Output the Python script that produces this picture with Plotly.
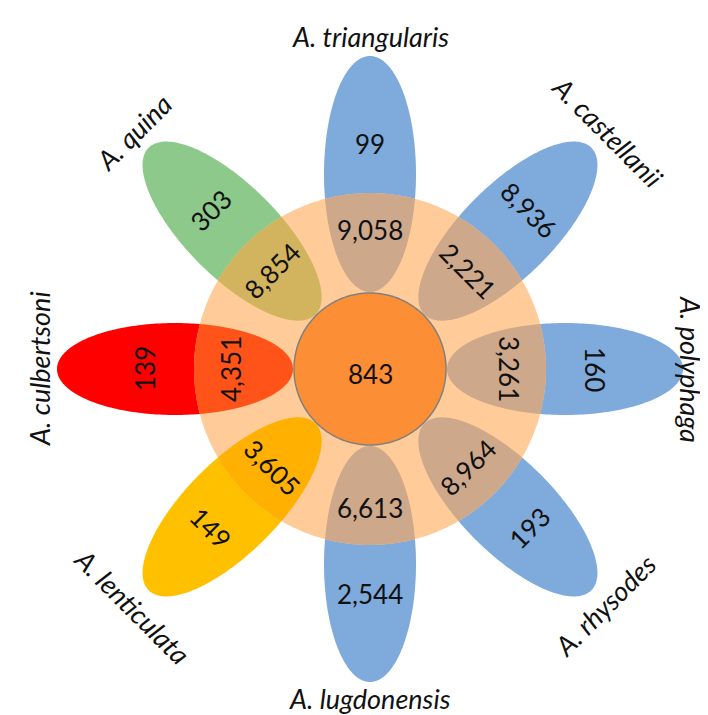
import numpy as np
import plotly.graph_objects as go

# ---- data ----
species = ["A. triangularis", "A. castellanii", "A. polyphaga", "A. rhysodes",
           "A. lugdonensis", "A. lenticulata", "A. culbertsoni", "A. quina"]
unique_counts = [99, 8936, 160, 193, 2544, 149, 139, 303]
shared_counts = [9058, 2221, 3261, 8964, 6613, 3605, 4351, 8854]
core_count = 843

# ---- styling ----
petal_angles = [90, 45, 0, -45, -90, -135, 180, 135]        # degrees, math convention
text_angles = [0, 45, 90, -45, 0, 45, -90, -45]              # plotly textangle (clockwise)
label_radii = [333, 336, 321, 333, 329, 336, 331, 335]
petal_colors = ["#7EAADC", "#7EAADC", "#7EAADC", "#7EAADC",
                "#7EAADC", "#FFC000", "#FF0000", "#8CC98A"]
overlap_colors = ["#CDA88A", "#CDA88A", "#CDA88A", "#CDA88A",
                  "#CDA88A", "#FFB000", "#FF5319", "#D2B45F"]
ring_color = "#FFCC99"
core_color = "#FC8E35"

W, H = 708, 715
CX, CY = 362, 361
R_RING, R_CORE = 176, 76
D_PETAL, A_PETAL, B_PETAL = 195, 118, 46
R_UNIQUE, R_SHARED = 225, 139
FONT = "Lato"


def path_from(pts):
    return "M " + " L ".join(f"{x:.2f},{y:.2f}" for x, y in pts) + " Z"


def ellipse_pts(ang, n=240):
    t = np.linspace(0, 2 * np.pi, n, endpoint=False)
    th = np.deg2rad(ang)
    ux, uy = np.cos(th), -np.sin(th)          # screen y down
    vx, vy = -uy, ux
    ex = CX + D_PETAL * ux
    ey = CY + D_PETAL * uy
    xs = ex + A_PETAL * np.cos(t) * ux + B_PETAL * np.sin(t) * vx
    ys = ey + A_PETAL * np.cos(t) * uy + B_PETAL * np.sin(t) * vy
    return xs, ys, (ex, ey, ux, uy, vx, vy)


def circle_pts(r, n=360):
    t = np.linspace(0, 2 * np.pi, n, endpoint=False)
    return CX + r * np.cos(t), CY + r * np.sin(t)


shapes = []
# petals
for ang, col in zip(petal_angles, petal_colors):
    xs, ys, _ = ellipse_pts(ang)
    shapes.append(dict(type="path", path=path_from(zip(xs, ys)),
                       fillcolor=col, line=dict(width=0), layer="above"))
# ring
rx, ry = circle_pts(R_RING)
shapes.append(dict(type="path", path=path_from(zip(rx, ry)),
                   fillcolor=ring_color, line=dict(width=0), layer="above"))
# overlaps (convex intersection of petal and ring)
cx_r, cy_r = circle_pts(R_RING, 1440)
for ang, col in zip(petal_angles, overlap_colors):
    xs, ys, (ex, ey, ux, uy, vx, vy) = ellipse_pts(ang, 1440)
    inside_c = (xs - CX) ** 2 + (ys - CY) ** 2 <= R_RING ** 2
    px = list(xs[inside_c]); py = list(ys[inside_c])
    dx = cx_r - ex; dy = cy_r - ey
    u = dx * ux + dy * uy; v = dx * vx + dy * vy
    inside_e = (u / A_PETAL) ** 2 + (v / B_PETAL) ** 2 <= 1
    px += list(cx_r[inside_e]); py += list(cy_r[inside_e])
    px = np.array(px); py = np.array(py)
    mx, my = px.mean(), py.mean()
    order = np.argsort(np.arctan2(py - my, px - mx))
    shapes.append(dict(type="path", path=path_from(zip(px[order], py[order])),
                       fillcolor=col, line=dict(width=0), layer="above"))
# core
kx, ky = circle_pts(R_CORE)
shapes.append(dict(type="path", path=path_from(zip(kx, ky)),
                   fillcolor=core_color, line=dict(color="#808080", width=1.5),
                   layer="above"))

annotations = []


def add_text(r, ang, txt, tangle, size, italic=False):
    th = np.deg2rad(ang)
    x = CX + r * np.cos(th)
    y = CY - r * np.sin(th)
    annotations.append(dict(x=x, y=y, xref="x", yref="y", text=txt, showarrow=False,
                            textangle=tangle, xanchor="center", yanchor="middle",
                            font=dict(family=FONT, size=size, color="#111111",
                                      style="italic" if italic else "normal")))


for name, uc, sc, ang, ta, lr in zip(species, unique_counts, shared_counts,
                                     petal_angles, text_angles, label_radii):
    add_text(R_UNIQUE, ang, f"{uc:,}", ta, 26)
    add_text(R_SHARED, ang, f"{sc:,}", ta, 26)
    add_text(lr, ang, name, ta, 27, italic=True)

add_text(0, 0, f"{core_count:,}", 0, 26)
annotations[-1]["y"] = CY + 5

fig = go.Figure()
fig.add_trace(go.Scatter(x=[CX], y=[CY], mode="markers",
                         marker=dict(opacity=0), hoverinfo="skip", showlegend=False))
fig.update_layout(
    width=W, height=H, margin=dict(l=0, r=0, t=0, b=0),
    paper_bgcolor="white", plot_bgcolor="white",
    xaxis=dict(range=[0, W], visible=False, fixedrange=True),
    yaxis=dict(range=[H, 0], visible=False, fixedrange=True),
    shapes=shapes, annotations=annotations, showlegend=False,
)
fig.write_html("out.html")
